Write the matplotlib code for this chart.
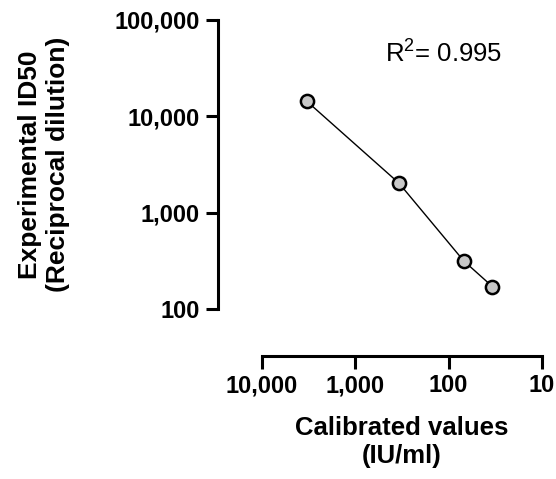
import matplotlib
matplotlib.use('Agg')
import matplotlib.pyplot as plt
from matplotlib.ticker import FixedLocator, FuncFormatter

# Data
calibrated = [3300, 340, 69, 34]          # IU/ml
experimental = [14300, 2020, 316, 171]    # reciprocal dilution
x_ticks = [10000, 1000, 100, 10]
y_ticks = [100, 1000, 10000, 100000]
r2_text = 'R$^2$= 0.995'

plt.rcParams['font.family'] = ['Liberation Sans', 'DejaVu Sans']
plt.rcParams['mathtext.fontset'] = 'custom'
plt.rcParams['mathtext.rm'] = 'Liberation Sans'
plt.rcParams['mathtext.it'] = 'Liberation Sans:italic'

fig = plt.figure(figsize=(5.56, 4.79), dpi=100)
ax = fig.add_axes([262 / 556, 1 - 309 / 479, 280 / 556, 289 / 479])

ax.plot(calibrated, experimental, color='black', linewidth=1.0,
        marker='o', markersize=9.5, markerfacecolor='#c8c8c8',
        markeredgecolor='black', markeredgewidth=1.8, clip_on=False)

ax.set_xscale('log')
ax.set_yscale('log')
ax.set_xlim(10000, 10)
ax.set_ylim(100, 100000)

fmt = FuncFormatter(lambda v, p: f'{int(round(v)):,}')
ax.xaxis.set_major_locator(FixedLocator(x_ticks))
ax.yaxis.set_major_locator(FixedLocator(y_ticks))
ax.xaxis.set_major_formatter(fmt)
ax.yaxis.set_major_formatter(fmt)
ax.minorticks_off()

for side in ['top', 'right']:
    ax.spines[side].set_visible(False)
ax.spines['left'].set_position(('outward', 32))
ax.spines['bottom'].set_position(('outward', 34))
for side in ['left', 'bottom']:
    ax.spines[side].set_linewidth(2.2)

ax.tick_params(axis='both', which='major', direction='out', length=9,
               width=2.2, labelsize=17, pad=4)
for lbl in ax.get_xticklabels() + ax.get_yticklabels():
    lbl.set_fontweight('bold')

ax.set_xlabel('Calibrated values\n(IU/ml)', fontsize=18.5, fontweight='bold',
              va='top')
ax.set_ylabel('Experimental ID50\n(Reciprocal dilution)', fontsize=19,
              fontweight='bold')
ax.xaxis.set_label_coords(0.5, -0.37)
ax.yaxis.set_label_coords(-0.686, 0.5)

ax.text(0.44, 0.851, r2_text, transform=ax.transAxes, fontsize=18.5,
        va='baseline', ha='left')

fig.savefig('out.png', dpi=100)
